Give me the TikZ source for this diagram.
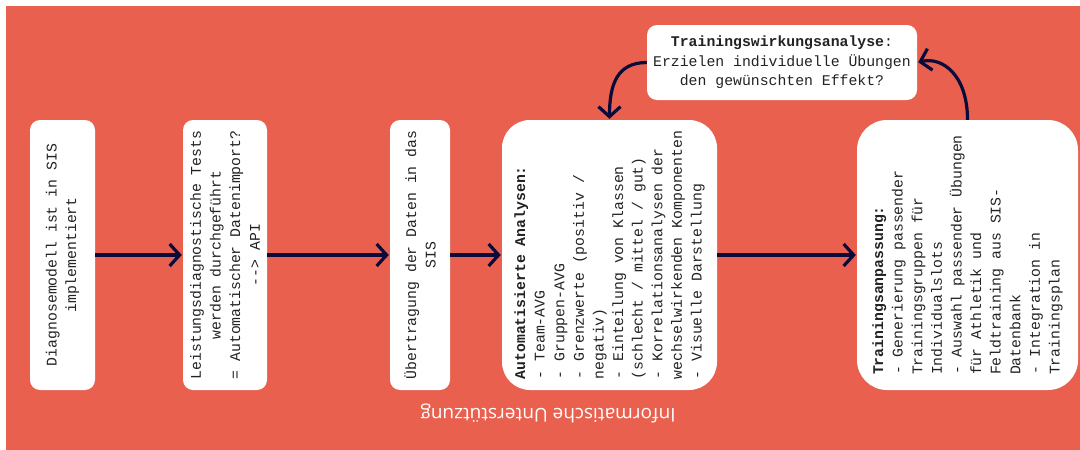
\documentclass[tikz,border=0pt]{standalone}
\usepackage{fontspec}
\setmonofont{Liberation Mono}
\setsansfont{Open Sans}
\usetikzlibrary{arrows.meta}
\definecolor{bgred}{HTML}{E9604F}
\definecolor{navy}{HTML}{0B0B3B}
\definecolor{ink}{HTML}{222222}
\begin{document}
\begin{tikzpicture}[x=1pt,y=-1pt,
  box/.style={fill=white, rounded corners=10pt, inner sep=0pt, text=ink,
    font=\ttfamily\fontsize{14.8pt}{19.6pt}\selectfont},
  vbox/.style={box, rotate=90, minimum width=270pt},
  flow/.style={draw=navy, line width=3.2pt, shorten >=1pt,
    -{Straight Barb[length=10pt,width=22pt]}},
]
% background panel
\useasboundingbox (0,0) rectangle (1080,450);
\fill[bgred] (6,6) rectangle (1080,450);

% process steps (text runs bottom to top)
\node[vbox, minimum height=65pt, align=center] (diag) at (62.5,255)
  {Diagnosemodell ist in SIS\\implementiert};
\node[vbox, minimum height=84pt, align=center] (tests) at (225,255)
  {Leistungsdiagnostische Tests\\werden durchgeführt\\= Automatischer Datenimport?\\-{}-> API};
\node[vbox, minimum height=60pt, align=center] (transfer) at (420,255)
  {Übertragung der Daten in das\\SIS};
\node[vbox, minimum height=215pt, rounded corners=28pt, align=left] (auto) at (609.5,255)
  {\textbf{Automatisierte Analysen:}\\
   - Team-AVG\\
   - Gruppen-AVG\\
   - Grenzwerte (positiv /\\
   negativ)\\
   - Einteilung von Klassen\\
   (schlecht / mittel / gut)\\
   - Korrelationsanalysen der\\
   wechselwirkenden Komponenten\\
   - Visuelle Darstellung};
\node[vbox, minimum height=221pt, rounded corners=30pt, align=left] (adapt) at (967.5,255)
  {\textbf{Trainingsanpassung:}\\
   - Generierung passender\\
   Trainingsgruppen für\\
   Individualslots\\
   - Auswahl passender Übungen\\
   für Athletik und\\
   Feldtraining aus SIS-\\
   Datenbank\\
   - Integration in\\
   Trainingsplan};
\node[box, minimum width=270pt, minimum height=75pt, align=center] (effect) at (782,62.5)
  {\textbf{Trainingswirkungsanalyse}:\\Erzielen individuelle Übungen\\den gewünschten Effekt?};

% connectors
\draw[flow] (diag.south) -- (tests.north);
\draw[flow] (tests.south) -- (transfer.north);
\draw[flow] (transfer.south) -- (auto.north);
\draw[flow] (auto.south) -- (adapt.north);
\draw[flow] (adapt.east) .. controls +(0,-45) and +(25,-6) .. (effect.east);
\draw[flow] (effect.west) .. controls +(-30,0) and +(0,-35) .. (auto.east);

% caption along the bottom edge
\node[rotate=180, text=white, font=\sffamily\fontsize{19pt}{22pt}\selectfont] (support) at (548,413)
  {Informatische Unterstützung};
\end{tikzpicture}
\end{document}
